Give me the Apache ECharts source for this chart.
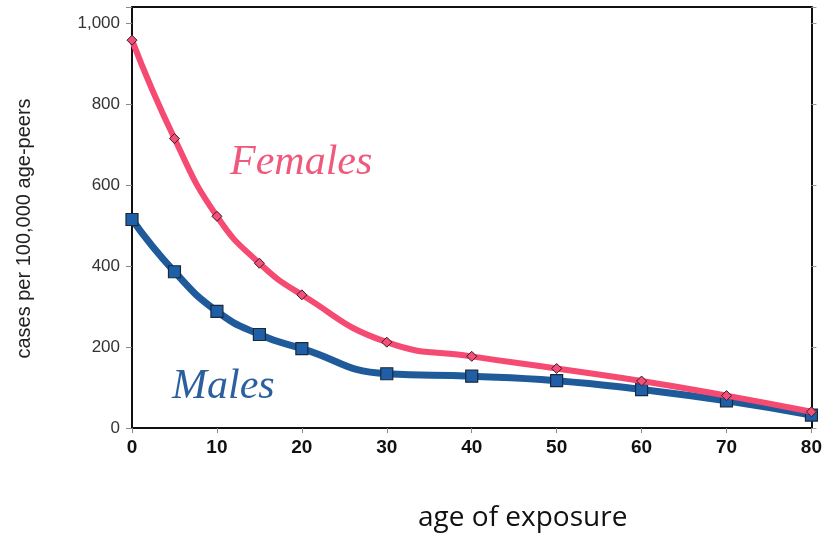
<!DOCTYPE html>
<html>
<head>
<meta charset="utf-8">
<script src="https://cdn.jsdelivr.net/npm/echarts@6/dist/echarts.min.js"></script>
<style>html,body{margin:0;padding:0;background:#fff}#c{width:825px;height:537px}</style>
</head>
<body>
<div id="c"></div>
<script>
var ages = [0, 5, 10, 15, 20, 30, 40, 50, 60, 70, 80];
var females = [958, 715, 523, 407, 329, 212, 177, 147, 116, 80, 40];
var males = [515, 386, 288, 231, 196, 134, 128, 117, 95, 67, 32];
var yTicks = [0, 200, 400, 600, 800, 1000];
var xTicks = [0, 10, 20, 30, 40, 50, 60, 70, 80];

function pairs(xs, ys) { return xs.map(function (x, i) { return [x, ys[i]]; }); }

var chart = echarts.init(document.getElementById('c'), null, {renderer: 'canvas'});
chart.setOption({
  animation: false,
  backgroundColor: '#ffffff',
  grid: {left: 132, right: 12, top: 7, bottom: 105.5},
  xAxis: [{
    type: 'value', min: 0, max: 80, interval: 10,
    axisLine: {onZero: false, lineStyle: {color: '#111', width: 2}},
    axisTick: {show: true, length: 5, lineStyle: {color: '#888', width: 1}},
    splitLine: {show: false},
    axisLabel: {
      color: '#111', fontSize: 19, fontWeight: 'bold', fontFamily: 'Liberation Sans, Arial, sans-serif', margin: 10,
      formatter: function (v) { return xTicks.indexOf(v) >= 0 ? String(v) : ''; }
    },
    name: 'age of exposure', nameLocation: 'middle', nameGap: 76,
    nameTextStyle: {color: '#111', fontSize: 28, fontFamily: 'Open Sans, Noto Sans, sans-serif', padding: [0, 0, 0, 102]}
  }, {
    type: 'value', min: 0, max: 80, position: 'top',
    axisLine: {show: true, onZero: false, lineStyle: {color: '#111', width: 2}},
    axisTick: {show: false}, axisLabel: {show: false}, splitLine: {show: false}
  }],
  yAxis: [{
    type: 'value', min: 0, max: 1040, interval: 200,
    axisLine: {show: true, onZero: false, lineStyle: {color: '#111', width: 2}},
    axisTick: {show: true, length: 6, lineStyle: {color: '#888', width: 1}},
    splitLine: {show: false},
    axisLabel: {
      color: '#333', fontSize: 17, fontFamily: 'Liberation Sans, Arial, sans-serif', margin: 12,
      formatter: function (v) { return yTicks.indexOf(v) >= 0 ? v.toLocaleString('en-US') : ''; }
    },
    name: 'cases per 100,000 age-peers', nameLocation: 'middle', nameGap: 98, nameRotate: 90,
    nameTextStyle: {color: '#222', fontSize: 20, fontFamily: 'Liberation Sans, Arial, sans-serif', padding: [0, 22, 0, 0]}
  }, {
    type: 'value', min: 0, max: 1040, interval: 200, position: 'right',
    axisLine: {show: true, onZero: false, lineStyle: {color: '#111', width: 2}},
    axisTick: {show: true, length: 5, lineStyle: {color: '#999', width: 1}},
    axisLabel: {show: false}, splitLine: {show: false}
  }],
  series: [{
    name: 'Males', type: 'line', data: pairs(ages, males),
    smooth: 0.5,
    symbol: 'rect', symbolSize: 12,
    lineStyle: {color: '#1f5a9a', width: 7},
    itemStyle: {color: '#1f5fa8', borderColor: '#1a2a3a', borderWidth: 1.2},
    z: 2
  }, {
    name: 'Females', type: 'line', data: pairs(ages, females),
    smooth: 0.5,
    symbol: 'diamond', symbolSize: 10,
    lineStyle: {color: '#f54a72', width: 6},
    itemStyle: {color: '#f0507a', borderColor: '#3a1a22', borderWidth: 1},
    z: 3
  }],
  graphic: [{
    type: 'text', left: 230, top: 142,
    style: {
      text: 'Females', fill: '#ee5a7c', font: 'italic 42px "Liberation Serif", "DejaVu Serif", serif',
      shadowColor: 'rgba(120,40,60,0.35)', shadowBlur: 2, shadowOffsetX: 1, shadowOffsetY: 1
    }
  }, {
    type: 'text', left: 172, top: 366,
    style: {
      text: 'Males', fill: '#2c5f9e', font: 'italic 42px "Liberation Serif", "DejaVu Serif", serif',
      shadowColor: 'rgba(200,80,100,0.35)', shadowBlur: 2, shadowOffsetX: 1, shadowOffsetY: 1
    }
  }]
});
</script>
</body>
</html>
